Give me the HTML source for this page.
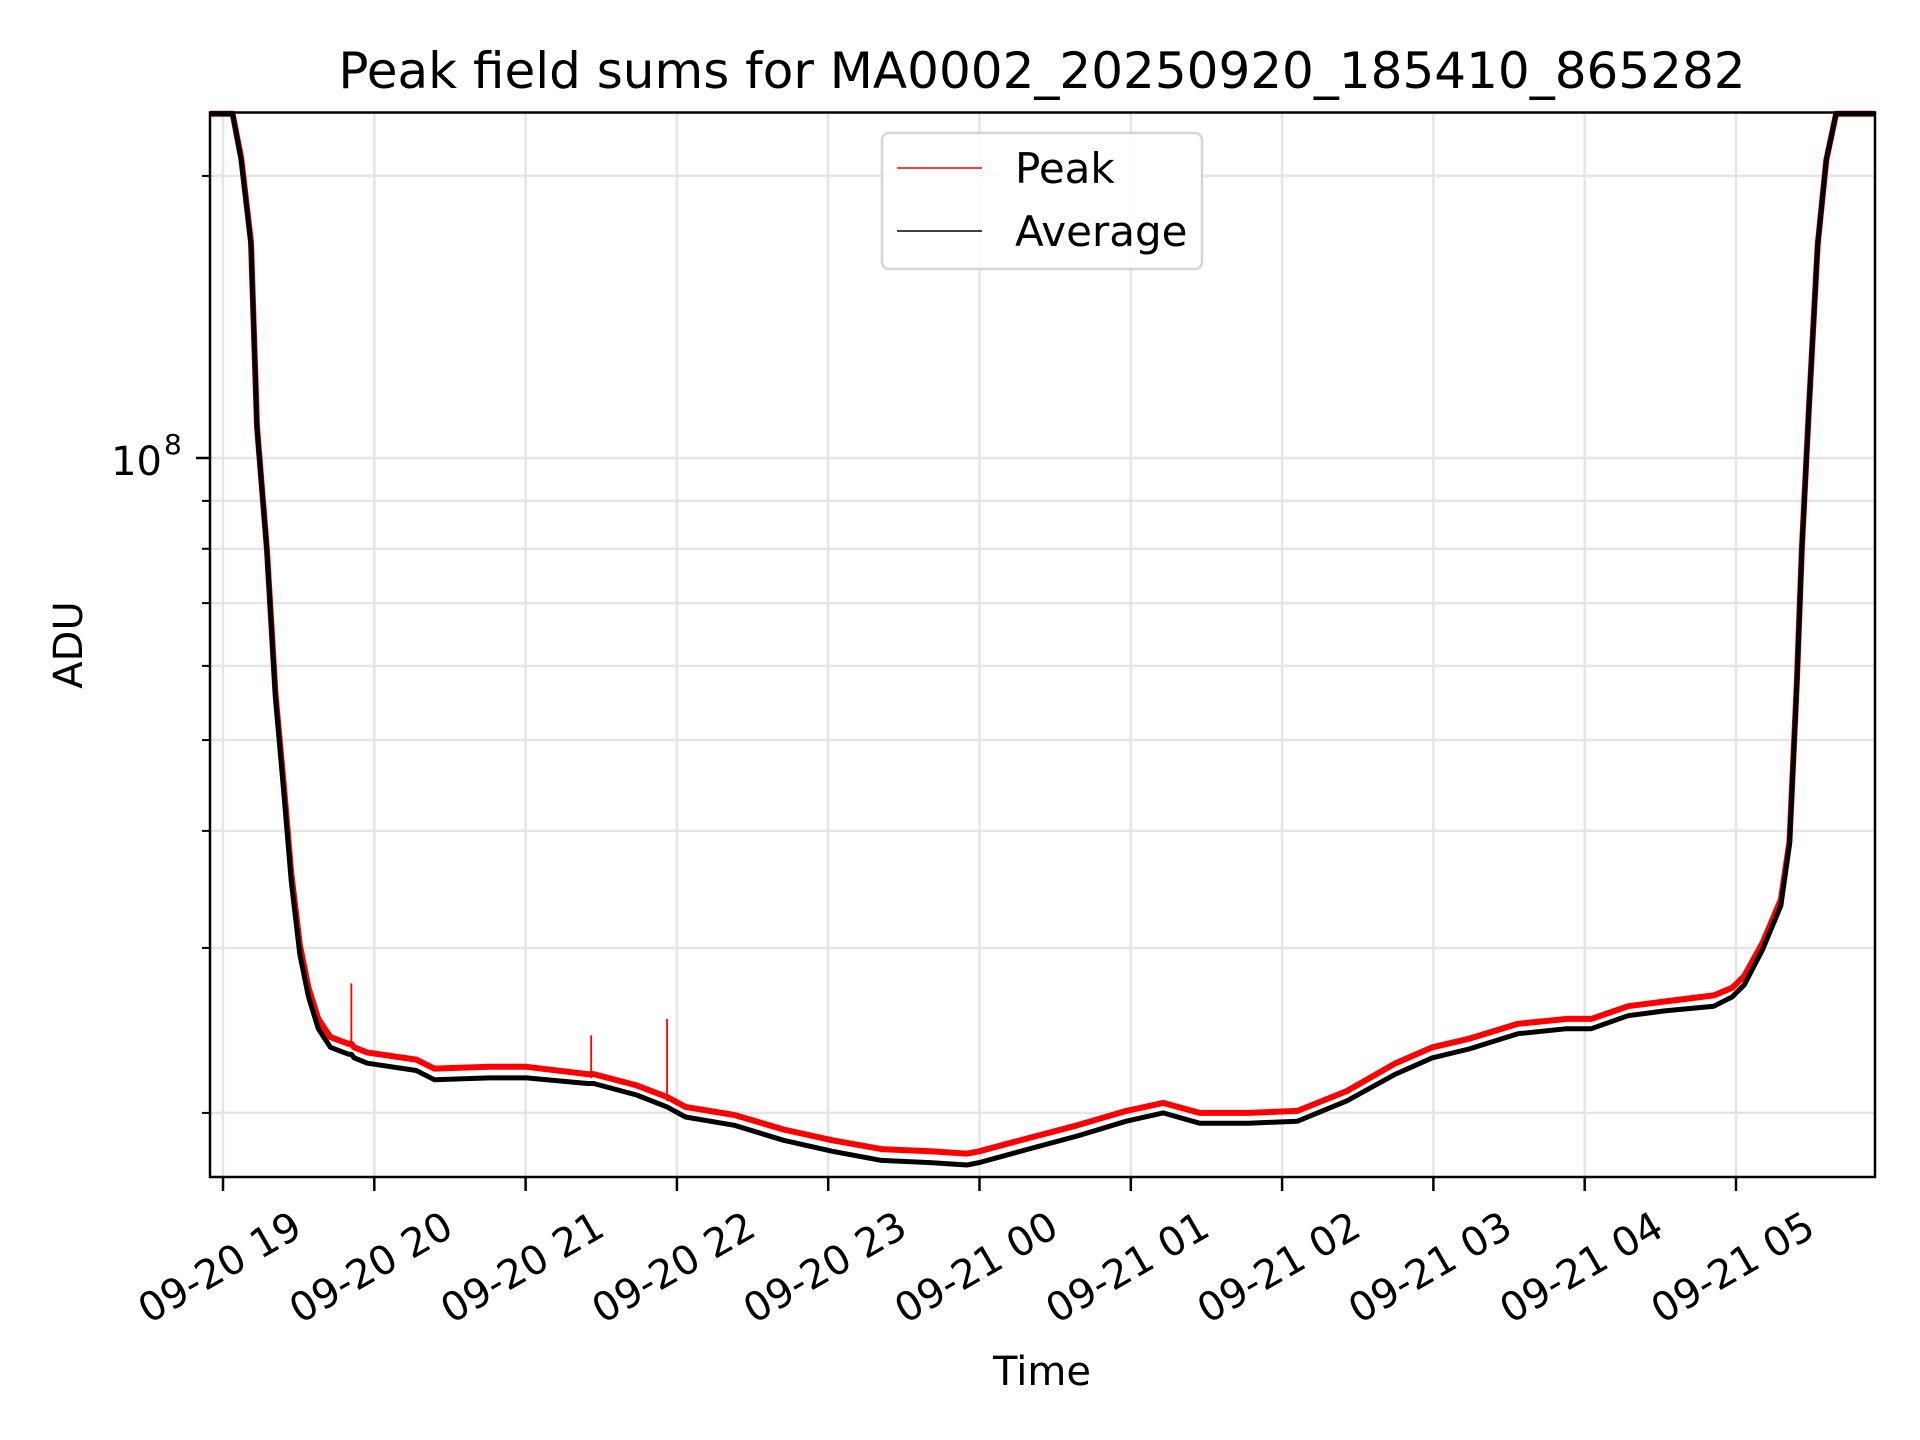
<!DOCTYPE html>
<html><head><meta charset="utf-8"><style>
html,body{margin:0;padding:0;background:#fff}
svg{display:block}
text{font-family:"DejaVu Sans","Liberation Sans",sans-serif;fill:#000}
</style></head><body>
<svg id="chart" width="1920" height="1440" viewBox="0 0 1920 1440" xmlns="http://www.w3.org/2000/svg">
<rect width="1920" height="1440" fill="#fff"/>
<text x="1042" y="88" font-size="50" text-anchor="middle">Peak field sums for MA0002_20250920_185410_865282</text>
<g id="grid"></g>
<g id="series"></g>
<rect x="210" y="112.5" width="1665" height="1064.5" fill="none" stroke="#000" stroke-width="2.5"/>
<g id="ticks"></g>
<text x="1042" y="1385" font-size="40" text-anchor="middle">Time</text>
<text x="0" y="0" font-size="40" text-anchor="middle" transform="translate(82,645) rotate(-90)">ADU</text>
<g>
<rect x="882" y="133" width="320" height="136" rx="7" fill="#fff" fill-opacity="0.85" stroke="#d5d5d5" stroke-width="2.5"/>
<line x1="897" y1="168" x2="982" y2="168" stroke="#ff0000" stroke-width="1.5"/>
<text x="1015" y="183" font-size="42">Peak</text>
<line x1="897" y1="231" x2="982" y2="231" stroke="#000" stroke-width="1.5"/>
<text x="1015" y="246" font-size="42">Average</text>
</g>
</svg>
<script>
// minutes since 2025-09-20 19:00
const times = [-6,3.8,7.2,11.1,13.5,17.4,20.8,24.2,27.1,30.5,33.9,37.8,42.6,49.9,50.9,52,57.2,76.6,83.8,105.7,120.3,144.5,146,147,164,176.1,183.4,202.8,222.3,241.7,261.1,280.5,295.1,299.9,319.4,338.8,358.2,372.8,387.3,406.7,426.1,445.6,465,479.6,494.1,513.5,532.9,542.6,557.2,571.7,591.2,598.5,603.3,610.6,617.8,621.2,624.1,626.1,629,632.4,635.8,639.7,645,655];
const averageValues = [2.33e8,2.33e8,2.08e8,1.69e8,1.076e8,7.96e7,5.55e7,4.37e7,3.53e7,2.95e7,2.66e7,2.46e7,2.35e7,2.31e7,2.31e7,2.29e7,2.26e7,2.22e7,2.17e7,2.18e7,2.18e7,2.15e7,2.15e7,2.15e7,2.09e7,2.03e7,1.98e7,1.94e7,1.87e7,1.82e7,1.78e7,1.77e7,1.76e7,1.77e7,1.83e7,1.89e7,1.96e7,2.00e7,1.95e7,1.95e7,1.96e7,2.06e7,2.20e7,2.29e7,2.34e7,2.43e7,2.46e7,2.46e7,2.54e7,2.57e7,2.60e7,2.66e7,2.74e7,2.99e7,3.33e7,3.87e7,5.72e7,7.96e7,1.14e8,1.69e8,2.08e8,2.33e8,2.33e8,2.33e8];
const peakValues = [2.33e8,2.33e8,2.09e8,1.70e8,1.08e8,7.99e7,5.6e7,4.45e7,3.6e7,3.02e7,2.72e7,2.52e7,2.41e7,2.37e7,2.37e7,2.35e7,2.32e7,2.28e7,2.23e7,2.24e7,2.24e7,2.2e7,2.2e7,2.2e7,2.14e7,2.08e7,2.03e7,1.99e7,1.92e7,1.87e7,1.83e7,1.82e7,1.81e7,1.82e7,1.88e7,1.94e7,2.01e7,2.05e7,2.0e7,2.0e7,2.01e7,2.11e7,2.26e7,2.35e7,2.4e7,2.49e7,2.52e7,2.52e7,2.6e7,2.63e7,2.67e7,2.72e7,2.8e7,3.04e7,3.38e7,3.9e7,5.75e7,7.98e7,1.14e8,1.69e8,2.08e8,2.33e8,2.33e8,2.33e8];
const spikeTimes = [50.9,146,176.1];
const spikeValues = [2.75e7,2.42e7,2.52e7];
const xTickLabels = ["09-20 19","09-20 20","09-20 21","09-20 22","09-20 23","09-21 00","09-21 01","09-21 02","09-21 03","09-21 04","09-21 05"];
const yMinorTicks = [2e7,3e7,4e7,5e7,6e7,7e7,8e7,9e7,2e8];
const yMajorTicks = [1e8];

const L=210,R=1875,T=112.5,B=1177;
const xS = m => 223 + m/60*151.3;
const yS = v => 458 - 937*(Math.log10(v)-8);
const NS="http://www.w3.org/2000/svg";
function mk(tag, attrs, parent){const e=document.createElementNS(NS,tag);for(const k in attrs)e.setAttribute(k,attrs[k]);parent.appendChild(e);return e;}
const grid=document.getElementById('grid'), ticks=document.getElementById('ticks'), series=document.getElementById('series');

xTickLabels.forEach((lab,i)=>{
  const x=xS(i*60);
  const g=mk('line',{x1:x,x2:x,y1:T,y2:B,stroke:'#e5e5e5','stroke-width':2.5},grid);
  
  
  const t=mk('line',{x1:x,x2:x,y1:B,y2:B+14,stroke:'#000','stroke-width':2.5},ticks);
  
  
  const tx=mk('text',{x:0,y:0,'font-size':40,'text-anchor':'middle','dominant-baseline':'central',transform:`translate(${x-3},${1268}) rotate(-30)`},ticks);
  tx.textContent=lab;
  
  
});
yMinorTicks.concat(yMajorTicks).forEach(v=>{
  const y=yS(v);
  const g=mk('line',{x1:L,x2:R,y1:y,y2:y,stroke:'#e5e5e5','stroke-width':2.5},grid);
  
  
  const major=yMajorTicks.includes(v);
  const t=mk('line',{x1:L-(major?14:8),x2:L,y1:y,y2:y,stroke:'#000','stroke-width':major?2.5:2},ticks);
  
  
  if(major){
    const tx=mk('text',{x:162,y:y+17,'font-size':40,'text-anchor':'end'},ticks);
    tx.textContent='10';
    
    
    const sp=mk('text',{x:164,y:y-4,'font-size':28},ticks);
    sp.textContent='8';
    
    
  }
});
const cp=mk('clipPath',{id:'clip'},document.getElementById('chart'));
mk('rect',{x:L,y:T-2,width:R-L,height:B-T+2},cp);
series.setAttribute('clip-path','url(#clip)');
function pathFor(vals){return times.map((m,i)=>(i?'L':'M')+xS(m).toFixed(1)+','+yS(vals[i]).toFixed(1)).join(' ');}
const pk=mk('path',{d:pathFor(peakValues),fill:'none',stroke:'#ff0000','stroke-width':6,'stroke-linejoin':'round'},series);


spikeTimes.forEach((m,i)=>{
  const s=mk('line',{x1:xS(m),x2:xS(m),y1:yS(spikeValues[i]),y2:yS(peakValues[times.indexOf(m)])+4,stroke:'#ff0000','stroke-width':1.8},series);
  
  
});
const av=mk('path',{d:pathFor(averageValues),fill:'none',stroke:'#000','stroke-width':5,'stroke-linejoin':'round'},series);


</script>
</body></html>
